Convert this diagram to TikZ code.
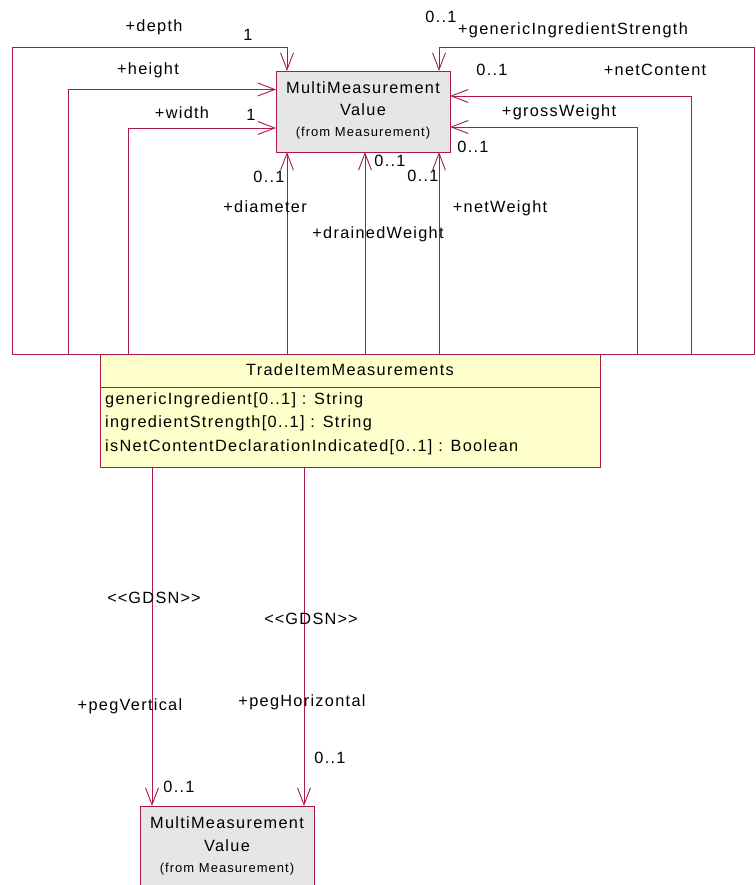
\documentclass[tikz,border=0pt]{standalone}
\usepackage{fontspec}
\setmainfont{Liberation Sans}[LetterSpace=8]
\usetikzlibrary{arrows.meta}
\definecolor{lc}{RGB}{170,25,75}
\definecolor{mmfill}{RGB}{230,230,230}
\definecolor{tifill}{RGB}{255,255,204}
\newcommand{\gdsnlabel}{\hbox{<}\kern1pt\hbox{<}\kern1pt GDSN\kern1pt\hbox{>}\kern1pt\hbox{>}}
\begin{document}
\begin{tikzpicture}[x=1pt,y=-1pt,
  lbl/.style={font=\fontsize{16.3}{18}\selectfont, inner sep=0pt},
  small/.style={font=\fontsize{13}{15}\selectfont, inner sep=0pt},
  assoc/.style={draw=lc, line width=0.9pt, -{Straight Barb[length=17pt,width=13pt]}},
  mmbox/.style={draw=lc, line width=0.9pt, fill=mmfill, anchor=north west, minimum width=174pt, minimum height=81pt, inner sep=0pt},
  tibox/.style={draw=lc, line width=0.9pt, fill=tifill, anchor=north west, minimum width=500pt, minimum height=113pt, inner sep=0pt}]
\useasboundingbox (0,0) rectangle (755,885);
% boxes
\node[mmbox] (mmv) at (276,71) {};
\node[lbl] (mmv1) at (363,88) {MultiMeasurement};
\node[lbl] (mmv2) at (363,110) {Value};
\node[small] (mmv3) at (363,133) {(from Measurement)};

\node[tibox] (tim) at (100,354) {};
\draw[draw=lc, line width=0.9pt] (tim.west |- 0,387) -- (tim.east |- 0,387);
\node[lbl] (timt) at (350,370) {TradeItemMeasurements};
\node[lbl, anchor=west] (a1) at (105,400) {genericIngredient[0..1] : String};
\node[lbl, anchor=west] (a2) at (105,423) {ingredientStrength[0..1] : String};
\node[lbl, anchor=west] (a3) at (105,447) {isNetContentDeclarationIndicated[0..1] : Boolean};

\node[mmbox, minimum height=90pt] (mmb) at (140,806) {};
\node[lbl] (mmb1) at (227,823) {MultiMeasurement};
\node[lbl] (mmb2) at (227,846) {Value};
\node[small] (mmb3) at (227,869) {(from Measurement)};

% coordinates on borders
\coordinate (tDepth) at (287,71);
\coordinate (tGIS) at (439,71);
\coordinate (lHeight) at (276,89.5);
\coordinate (lWidth) at (276,128);
\coordinate (rNetC) at (450,96);
\coordinate (rGross) at (450,127);
\coordinate (bDiam) at (287,152);
\coordinate (bDrain) at (365,152);
\coordinate (bNetW) at (439,152);
\coordinate (sHeight) at (68,354);
\coordinate (sWidth) at (128,354);
\coordinate (sDiam) at (287,354);
\coordinate (sDrain) at (365,354);
\coordinate (sNetW) at (439,354);
\coordinate (sNetC) at (691,354);
\coordinate (sGross) at (637,354);
\coordinate (sPV) at (152,467);
\coordinate (sPH) at (304,467);
\coordinate (ePV) at (152,806);
\coordinate (ePH) at (304,806);

% connectors
\draw[assoc] (tim.north west) -- (12,354) -- (12,47) -- (287,47) -- (tDepth);
\draw[assoc] (sHeight) -- (68,89.5) -- (lHeight);
\draw[assoc] (sWidth) -- (128,128) -- (lWidth);
\draw[assoc] (sDiam) -- (bDiam);
\draw[assoc] (sDrain) -- (bDrain);
\draw[assoc] (sNetW) -- (bNetW);
\draw[assoc] (tim.north east) -- (754,354) -- (754,47) -- (439,47) -- (tGIS);
\draw[assoc] (sNetC) -- (691,96) -- (rNetC);
\draw[assoc] (sGross) -- (637,127) -- (rGross);
\draw[assoc] (sPV) -- (ePV);
\draw[assoc] (sPH) -- (ePH);

% labels
\node[lbl] (ldepth) at (154,27) {+depth};
\node[lbl] (mdepth) at (248,35) {1};
\node[lbl] (lheight) at (148,70) {+height};
\node[lbl] (lwidth) at (182,113) {+width};
\node[lbl] (mwidth) at (251,115) {1};
\node[lbl] (mdiam) at (269,177) {0..1};
\node[lbl] (ldiam) at (265,207) {+diameter};
\node[lbl] (ldrain) at (378,234) {+drainedWeight};
\node[lbl] (mdrain) at (390,161) {0..1};
\node[lbl] (mnetw) at (423,176) {0..1};
\node[lbl] (mgross) at (473,147) {0..1};
\node[lbl] (lnetw) at (500,208) {+netWeight};
\node[lbl] (mgis) at (441,17) {0..1};
\node[lbl] (lgis) at (573,30) {+genericIngredientStrength};
\node[lbl] (mnetc) at (492,70) {0..1};
\node[lbl] (lnetc) at (655,70) {+netContent};
\node[lbl] (lgross) at (559,112) {+grossWeight};

\node[lbl] (g1) at (154,598) {\gdsnlabel};
\node[lbl] (g2) at (311,619) {\gdsnlabel};
\node[lbl] (lpv) at (130,706) {+pegVertical};
\node[lbl] (lph) at (302,702) {+pegHorizontal};
\node[lbl] (mph) at (330,758) {0..1};
\node[lbl] (mpv) at (179,787) {0..1};
\end{tikzpicture}
\end{document}
